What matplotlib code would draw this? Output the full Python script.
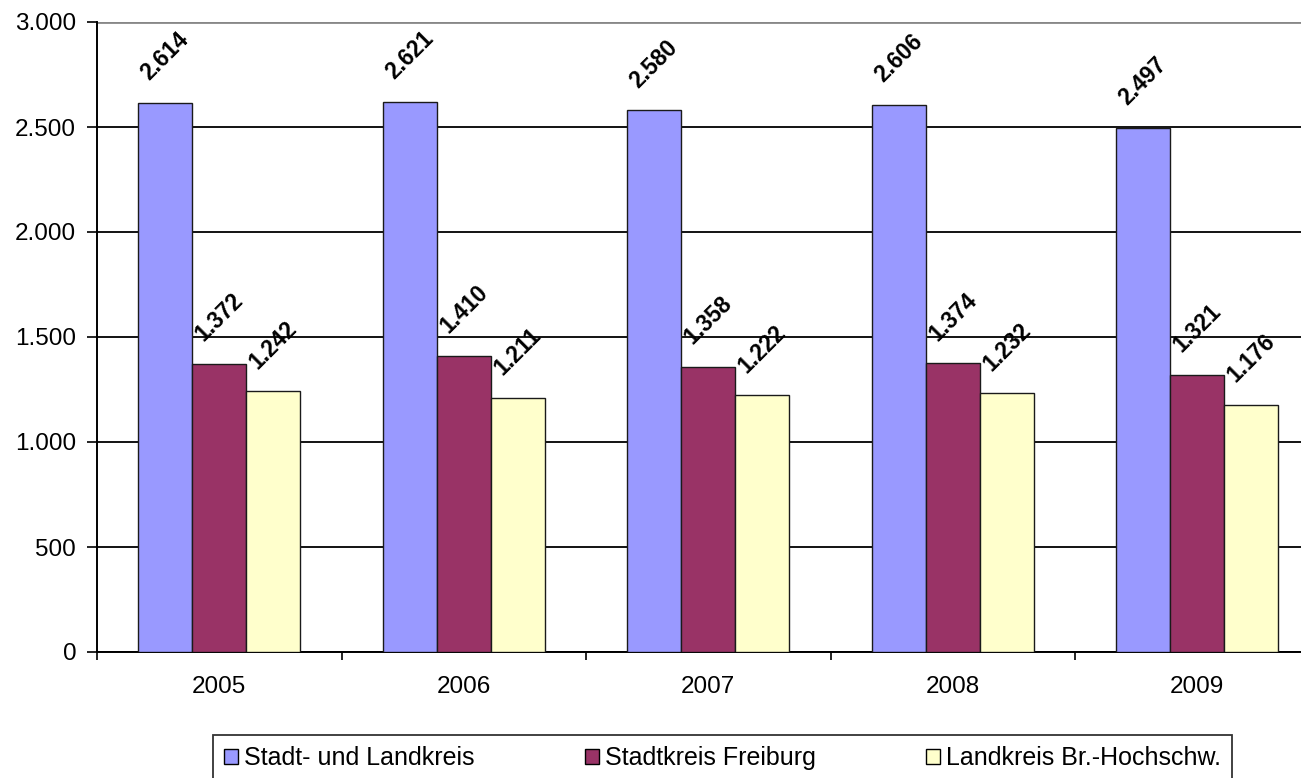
import matplotlib
matplotlib.use("Agg")
import matplotlib.pyplot as plt
import numpy as np

plt.rcParams['font.family'] = ['Liberation Sans', 'DejaVu Sans']

years = ["2005", "2006", "2007", "2008", "2009"]
series_names = ["Stadt- und Landkreis", "Stadtkreis Freiburg", "Landkreis Br.-Hochschw."]
stadt_und_land = [2614, 2621, 2580, 2606, 2497]
stadtkreis = [1372, 1410, 1358, 1374, 1321]
landkreis = [1242, 1211, 1222, 1232, 1176]
colors = ["#9999FF", "#993366", "#FFFFCC"]
yticks = [0, 500, 1000, 1500, 2000, 2500, 3000]

def fmt(v):
    return f"{v:,}".replace(",", ".")

W, H = 1301, 778
fig = plt.figure(figsize=(W/100, H/100), dpi=100)
left, right, top, bottom = 97, 1319.5, 22, 652
ax = fig.add_axes([left/W, 1-bottom/H, (right-left)/W, (bottom-top)/H])

x = np.arange(len(years))
w = 0.221
data = [stadt_und_land, stadtkreis, landkreis]
for i, (vals, c, name) in enumerate(zip(data, colors, series_names)):
    pos = x + (i - 1) * w
    ax.bar(pos, vals, width=w, color=c, edgecolor="#1a1a1a", linewidth=1.0, label=name, zorder=3)
    for p, v in zip(pos, vals):
        ax.annotate(fmt(v), xy=(p, v), xytext=(0, 13), textcoords="offset points",
                    rotation=45, ha="center", va="bottom",
                    fontsize=16.5, fontweight="bold", zorder=4)

ax.set_xlim(-0.5, 4.5)
ax.set_ylim(0, 3000)
ax.set_yticks(yticks)
ax.set_yticklabels([fmt(t) for t in yticks], fontsize=17.5)
ax.yaxis.grid(True, color="black", linewidth=1.3, zorder=0)
ax.get_ygridlines()[-1].set_color("#888888")
ax.get_ygridlines()[-1].set_linewidth(2.0)
ax.set_axisbelow(True)

ax.set_xticks(x)
ax.set_xticklabels(years, fontsize=17.5)
ax.set_xticks(np.arange(-0.5, 5.0, 1.0), minor=True)
ax.tick_params(axis="x", which="major", length=0, pad=17)
ax.tick_params(axis="x", which="minor", length=6, width=1.2, direction="out")
ax.tick_params(axis="y", length=7, width=1.2, direction="out", pad=8)

for s in ["top", "right"]:
    ax.spines[s].set_visible(False)
for s in ["left", "bottom"]:
    ax.spines[s].set_linewidth(1.4)
    ax.spines[s].set_color("black")

leg = fig.legend(loc="upper right", bbox_to_anchor=(1232/W, 1-735/H), ncol=3,
                 fontsize=18, frameon=True, fancybox=False, edgecolor="black",
                 handlelength=0.55, handleheight=0.55, handletextpad=0.25,
                 columnspacing=4.4, borderpad=0.45, borderaxespad=0)
leg.get_frame().set_linewidth(1.3)
for p in leg.get_patches():
    p.set_edgecolor("black")
    p.set_linewidth(1.0)

fig.savefig("out.png", dpi=100)
